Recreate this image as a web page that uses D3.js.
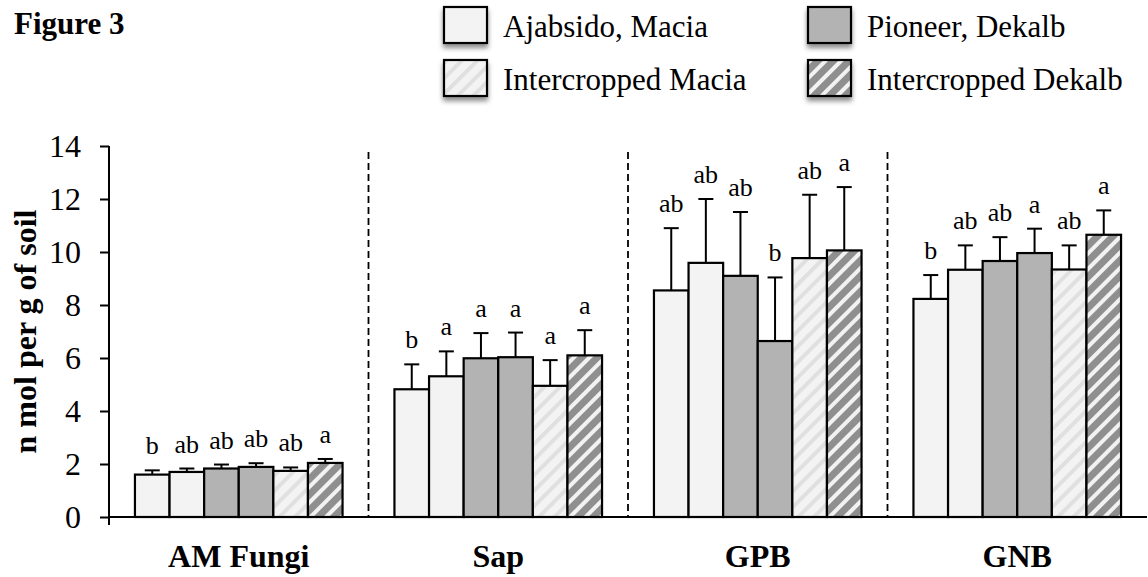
<!DOCTYPE html>
<html>
<head>
<meta charset="utf-8">
<script src="https://cdn.jsdelivr.net/npm/d3@7"></script>
<style>
  body { margin: 0; background: #fff; }
  svg { display: block; font-family: "Liberation Serif", "Times New Roman", serif; }
</style>
</head>
<body>
<svg id="chart" width="1148" height="577"></svg>
<script>
// data (n mol per g of soil)
const categories = ["AM Fungi", "Sap", "GPB", "GNB"];
const seriesKeys = ["ajabsido", "macia", "pioneer", "dekalb", "interMacia", "interDekalb"];

const ajabsido    = [1.60, 4.82, 8.55, 8.23];
const macia       = [1.70, 5.31, 9.59, 9.33];
const pioneer     = [1.83, 5.99, 9.10, 9.66];
const dekalb      = [1.89, 6.03, 6.64, 9.96];
const interMacia  = [1.74, 4.95, 9.77, 9.34];
const interDekalb = [2.04, 6.10, 10.06, 10.65];

const errAjabsido    = [0.16, 0.94, 2.35, 0.90];
const errMacia       = [0.13, 0.94, 2.41, 0.92];
const errPioneer     = [0.15, 0.95, 2.41, 0.90];
const errDekalb      = [0.14, 0.93, 2.40, 0.92];
const errInterMacia  = [0.13, 0.97, 2.39, 0.91];
const errInterDekalb = [0.15, 0.95, 2.39, 0.92];

const lettersAjabsido    = ["b", "b", "ab", "b"];
const lettersMacia       = ["ab", "a", "ab", "ab"];
const lettersPioneer     = ["ab", "a", "ab", "ab"];
const lettersDekalb      = ["ab", "a", "b", "a"];
const lettersInterMacia  = ["ab", "a", "ab", "ab"];
const lettersInterDekalb = ["a", "a", "a", "a"];

const yTicks = [0, 2, 4, 6, 8, 10, 12, 14];
const legendLabels = ["Ajabsido, Macia", "Pioneer, Dekalb", "Intercropped Macia", "Intercropped Dekalb"];

const means = { ajabsido, macia, pioneer, dekalb, interMacia, interDekalb };
const errs = { ajabsido: errAjabsido, macia: errMacia, pioneer: errPioneer, dekalb: errDekalb,
               interMacia: errInterMacia, interDekalb: errInterDekalb };
const letters = { ajabsido: lettersAjabsido, macia: lettersMacia, pioneer: lettersPioneer, dekalb: lettersDekalb,
                  interMacia: lettersInterMacia, interDekalb: lettersInterDekalb };

// fill per series
const fills = {
  ajabsido: "#f3f3f3", macia: "#f3f3f3",
  pioneer: "#b3b3b3", dekalb: "#b3b3b3",
  interMacia: "url(#hatchLight)", interDekalb: "url(#hatchDark)"
};
const legendFills = [fills.ajabsido, fills.pioneer, fills.interMacia, fills.interDekalb];

const svg = d3.select("#chart");
const defs = svg.append("defs");

function hatch(id, bg, stripe, w) {
  const p = defs.append("pattern")
    .attr("id", id)
    .attr("patternUnits", "userSpaceOnUse")
    .attr("width", 11).attr("height", 11)
    .attr("patternTransform", "rotate(45)");
  p.append("rect").attr("width", 11).attr("height", 11).attr("fill", bg);
  p.append("rect").attr("width", w).attr("height", 11).attr("fill", stripe);
}
hatch("hatchLight", "#f3f3f3", "#e0e0e0", 4);
hatch("hatchDark", "#8f8f8f", "#f2f2f2", 4);

const shadow = defs.append("filter").attr("id", "shadow")
  .attr("x", "-30%").attr("y", "-30%").attr("width", "160%").attr("height", "170%");
shadow.append("feDropShadow")
  .attr("dx", 0).attr("dy", 4).attr("stdDeviation", 2.5)
  .attr("flood-color", "#000").attr("flood-opacity", 0.45);

// scales
const plotLeft = 109, plotRight = 1147, plotTop = 146, plotBottom = 517;
const x0 = d3.scaleBand().domain(categories).range([plotLeft, plotRight]).padding(0);
const bw = x0.bandwidth();
const x1 = d3.scaleBand().domain(seriesKeys).range([bw * 0.1, bw * 0.9]).padding(0);
const y = d3.scaleLinear().domain([0, 14]).range([plotBottom, plotTop]);

// title
svg.append("text")
  .attr("x", 14).attr("y", 34)
  .attr("font-size", 31).attr("font-weight", "bold")
  .text("Figure 3");

// dashed separators between groups
svg.append("g").selectAll("line")
  .data(categories.slice(1))
  .enter().append("line")
  .attr("x1", d => x0(d)).attr("x2", d => x0(d))
  .attr("y1", y(14) + 6).attr("y2", y(0))
  .attr("stroke", "#000").attr("stroke-width", 1.8)
  .attr("stroke-dasharray", "7,4");

// bars
const rows = categories.map((c, i) => seriesKeys.map(k => ({
  cat: c, key: k, v: means[k][i], e: errs[k][i], t: letters[k][i]
})));

const groups = svg.append("g").selectAll("g")
  .data(rows)
  .enter().append("g")
  .attr("transform", d => "translate(" + x0(d[0].cat) + ",0)");

groups.selectAll("line.err")
  .data(d => d)
  .enter().append("line")
  .attr("class", "err")
  .attr("x1", d => x1(d.key) + x1.bandwidth() / 2)
  .attr("x2", d => x1(d.key) + x1.bandwidth() / 2)
  .attr("y1", d => y(d.v)).attr("y2", d => y(d.v + d.e))
  .attr("stroke", "#000").attr("stroke-width", 2);

groups.selectAll("line.cap")
  .data(d => d)
  .enter().append("line")
  .attr("class", "cap")
  .attr("x1", d => x1(d.key) + x1.bandwidth() / 2 - 7.5)
  .attr("x2", d => x1(d.key) + x1.bandwidth() / 2 + 7.5)
  .attr("y1", d => y(d.v + d.e)).attr("y2", d => y(d.v + d.e))
  .attr("stroke", "#000").attr("stroke-width", 2);

groups.selectAll("rect")
  .data(d => d)
  .enter().append("rect")
  .attr("x", d => x1(d.key))
  .attr("y", d => y(d.v))
  .attr("width", x1.bandwidth())
  .attr("height", d => y(0) - y(d.v))
  .attr("fill", d => fills[d.key])
  .attr("stroke", "#000").attr("stroke-width", 2.2);

groups.selectAll("text")
  .data(d => d)
  .enter().append("text")
  .attr("x", d => x1(d.key) + x1.bandwidth() / 2)
  .attr("y", d => y(d.v + d.e) - 16)
  .attr("text-anchor", "middle")
  .attr("font-size", 26)
  .text(d => d.t);

// y axis
const yAxis = svg.append("g")
  .attr("transform", "translate(" + plotLeft + ",0)")
  .call(d3.axisLeft(y).tickValues(yTicks).tickSize(9).tickPadding(19).tickSizeOuter(0));
yAxis.select(".domain").remove();
yAxis.selectAll(".tick line").attr("stroke", "#000").attr("stroke-width", 2);
yAxis.selectAll(".tick text")
  .attr("font-family", "Liberation Serif").attr("font-size", 32).attr("fill", "#000");
yAxis.append("line")
  .attr("x1", 0).attr("x2", 0).attr("y1", y(14)).attr("y2", y(0) + 8)
  .attr("stroke", "#000").attr("stroke-width", 2);

// x axis: line, boundary ticks, centred labels
const xAxis = svg.append("g").attr("transform", "translate(0," + y(0) + ")");
xAxis.append("line")
  .attr("x1", plotLeft).attr("x2", plotRight)
  .attr("stroke", "#000").attr("stroke-width", 2);
xAxis.selectAll("line.tick")
  .data(categories.slice(1).map(c => x0(c)).concat([plotRight]))
  .enter().append("line")
  .attr("class", "tick")
  .attr("x1", d => d).attr("x2", d => d)
  .attr("y1", 0).attr("y2", 8)
  .attr("stroke", "#000").attr("stroke-width", 2);
xAxis.call(d3.axisBottom(x0).tickSize(0).tickPadding(0))
  .call(g => g.select(".domain").remove())
  .selectAll(".tick text")
  .attr("y", 50).attr("dy", 0)
  .attr("font-family", "Liberation Serif").attr("font-size", 32)
  .attr("font-weight", "bold").attr("fill", "#000");

// y axis title
svg.append("text")
  .attr("transform", "translate(36," + ((plotTop + plotBottom) / 2) + ") rotate(-90)")
  .attr("text-anchor", "middle")
  .attr("font-size", 32).attr("font-weight", "bold")
  .text("n mol per g of soil");

// legend
const legend = svg.append("g").selectAll("g")
  .data(legendLabels)
  .enter().append("g")
  .attr("transform", (d, i) => "translate(" + (i % 2 === 0 ? 444 : 808) + "," + (i < 2 ? 7 : 60) + ")");
legend.append("rect")
  .attr("width", 43).attr("height", 36)
  .attr("fill", (d, i) => legendFills[i])
  .attr("stroke", "#000").attr("stroke-width", 2.2)
  .attr("filter", "url(#shadow)");
legend.append("text")
  .attr("x", 59).attr("y", 30)
  .attr("font-size", 31)
  .text(d => d);
</script>
</body>
</html>
